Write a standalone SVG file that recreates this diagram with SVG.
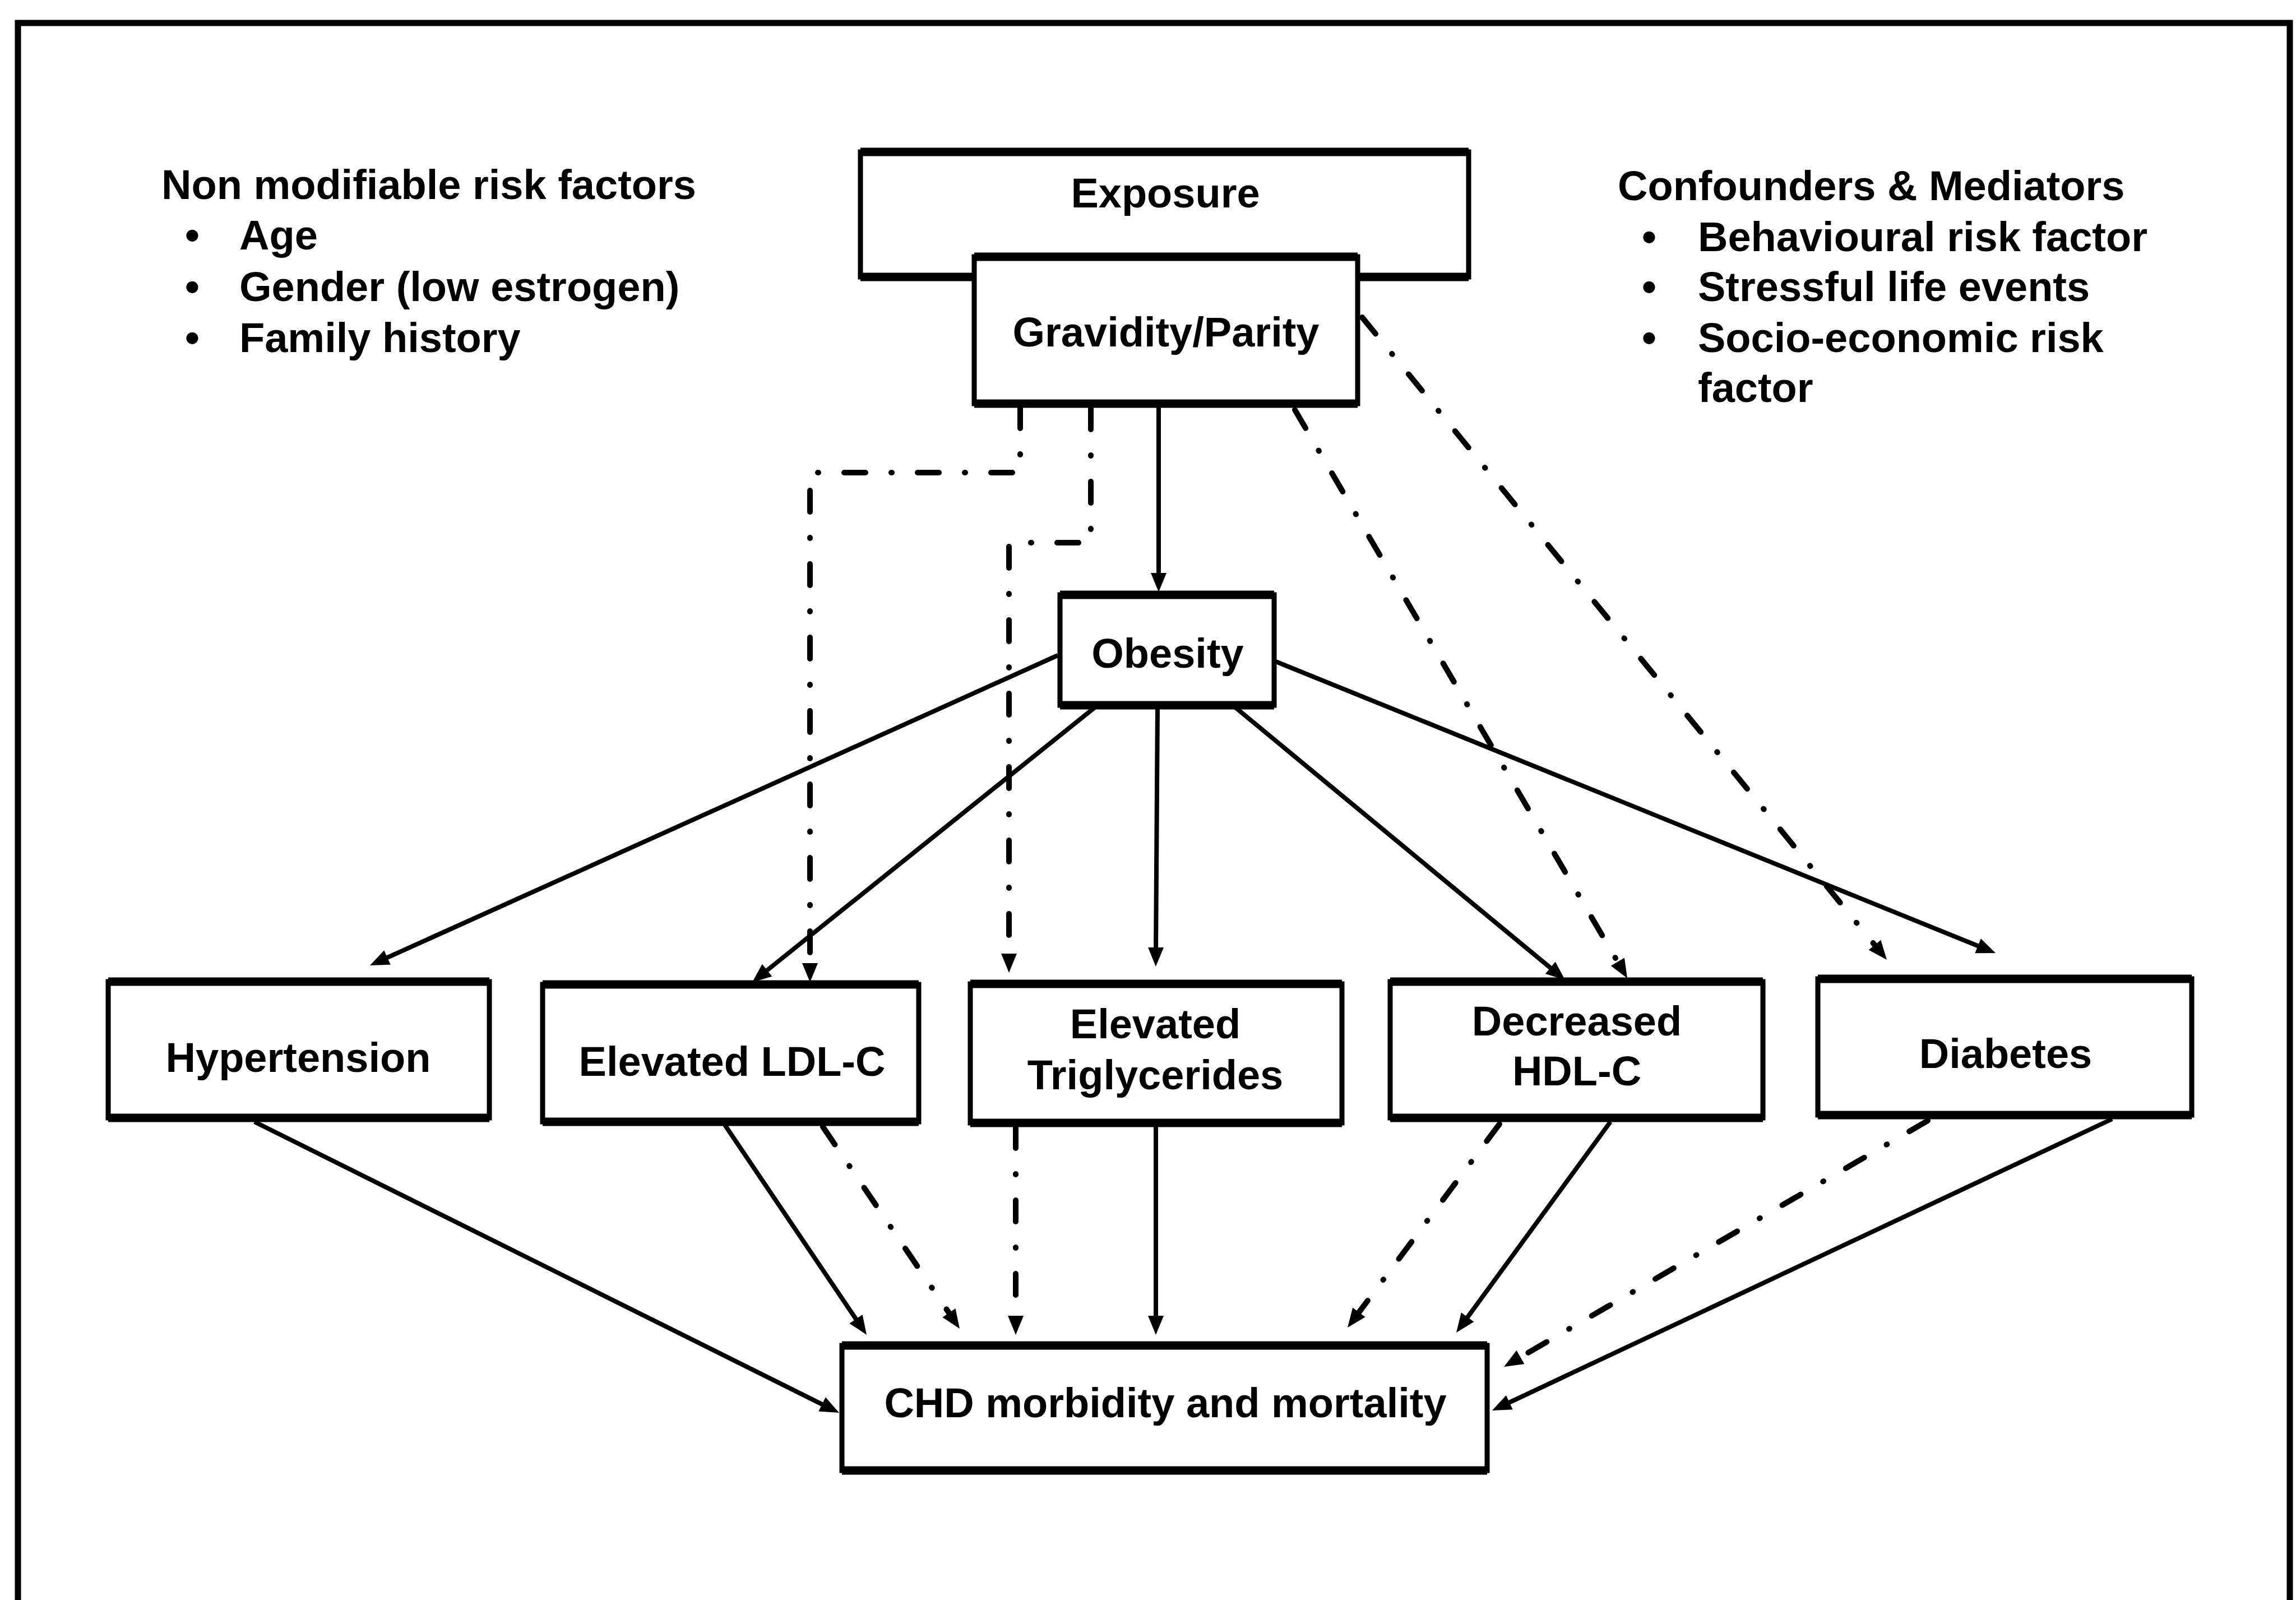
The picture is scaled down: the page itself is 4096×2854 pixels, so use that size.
<svg xmlns="http://www.w3.org/2000/svg" width="4096" height="2854" viewBox="0 0 4096 2854">
<defs>
<style>
.box{fill:#fff;stroke:#000;stroke-width:9}
.hb{fill:none;stroke:#000;stroke-width:15}
.t{font-family:"Liberation Sans",Arial,sans-serif;font-weight:bold;font-size:74px;fill:#000}
.c{text-anchor:middle}
.s{fill:none;stroke:#000;stroke-width:8}
.d{fill:none;stroke:#000;stroke-width:10;stroke-linecap:round;stroke-dasharray:38 46 1 46}
</style>
<marker id="ah" markerUnits="userSpaceOnUse" markerWidth="36" markerHeight="30" refX="10" refY="14" orient="auto" overflow="visible">
<path d="M0,0 L34,14 L0,28 z" fill="#000"/>
</marker>
</defs>
<rect width="4096" height="2854" fill="#fff"/>
<path d="M32,2854 V41 H4085 V2854" fill="none" stroke="#000" stroke-width="11"/>

<g id="left-notes">
<text class="t" x="288" y="355">Non modifiable risk factors</text>
<text class="t" x="330" y="445">•</text><text class="t" x="427" y="445">Age</text>
<text class="t" x="330" y="537">•</text><text class="t" x="427" y="537">Gender (low estrogen)</text>
<text class="t" x="330" y="628">•</text><text class="t" x="427" y="628">Family history</text>
</g>
<g id="right-notes">
<text class="t" x="2886" y="357">Confounders &amp; Mediators</text>
<text class="t" x="2929" y="448">•</text><text class="t" x="3029" y="448">Behavioural risk factor</text>
<text class="t" x="2929" y="537">•</text><text class="t" x="3029" y="537">Stressful life events</text>
<text class="t" x="2929" y="628">•</text><text class="t" x="3029" y="628">Socio-economic risk</text>
<text class="t" x="3029" y="717">factor</text>
</g>

<g id="connectors">
<path class="s" d="M2067,722 L2067,1032" marker-end="url(#ah)"/>
<path class="s" d="M1887,1169 L681.9,1712.1" marker-end="url(#ah)"/>
<path class="s" d="M1953,1262 L1360.7,1737" marker-end="url(#ah)"/>
<path class="s" d="M2065,1262 L2062,1700" marker-end="url(#ah)"/>
<path class="s" d="M2204,1262 L2773.5,1732.7" marker-end="url(#ah)"/>
<path class="s" d="M2271,1178 L3537.8,1691" marker-end="url(#ah)"/>
<path class="s" d="M454,2001 L1475.5,2509.3" marker-end="url(#ah)"/>
<path class="s" d="M1292,2005 L1532.6,2361.1" marker-end="url(#ah)"/>
<path class="s" d="M2062,2005 L2062,2357" marker-end="url(#ah)"/>
<path class="s" d="M2873,2001 L2612.2,2357.6" marker-end="url(#ah)"/>
<path class="s" d="M3768,1996 L2683.7,2505.8" marker-end="url(#ah)"/>
<path class="d" d="M1820,726 V843 H1445 V1728" marker-end="url(#ah)"/>
<path class="d" d="M1946,728 V968 H1800 V1711" marker-end="url(#ah)"/>
<path class="d" d="M2310,731 L2890.9,1724.3" marker-end="url(#ah)"/>
<path class="d" d="M2430,566 L3350.8,1693.4" marker-end="url(#ah)"/>
<path class="d" d="M1468,2010 L1698.5,2350.1" marker-end="url(#ah)"/>
<path class="d" d="M1812,2010 L1812,2357" marker-end="url(#ah)"/>
<path class="d" d="M2675,2005 L2418.4,2348.8" marker-end="url(#ah)"/>
<path class="d" d="M3439,1999 L2703.8,2425.9" marker-end="url(#ah)"/>
</g>

<g id="exposure">
<rect class="box" x="1535" y="271" width="1085" height="223"/>
<path class="hb" d="M1535,271 H2620 M1535,494 H2620"/>
<text class="t c" x="2079" y="370">Exposure</text>
</g>
<g id="gravidity">
<rect class="box" x="1738" y="458" width="684" height="262"/>
<path class="hb" d="M1738,458 H2422 M1738,720 H2422"/>
<text class="t c" x="2080" y="618">Gravidity/Parity</text>
</g>
<g id="obesity">
<rect class="box" x="1891" y="1061" width="382" height="197"/>
<path class="hb" d="M1891,1061 H2273 M1891,1258 H2273"/>
<text class="t c" x="2083" y="1191">Obesity</text>
</g>
<g id="hypertension">
<rect class="box" x="193" y="1751" width="680" height="243"/>
<path class="hb" d="M193,1751 H873 M193,1994 H873"/>
<text class="t c" x="532" y="1912">Hypertension</text>
</g>
<g id="ldl">
<rect class="box" x="968" y="1756" width="671" height="245"/>
<path class="hb" d="M968,1756 H1639 M968,2001 H1639"/>
<text class="t c" x="1306" y="1919">Elevated LDL-C</text>
</g>
<g id="triglycerides">
<rect class="box" x="1731" y="1755" width="663" height="248"/>
<path class="hb" d="M1731,1755 H2394 M1731,2003 H2394"/>
<text class="t c" x="2061" y="1852">Elevated</text>
<text class="t c" x="2061" y="1943">Triglycerides</text>
</g>
<g id="hdl">
<rect class="box" x="2480" y="1751" width="665" height="243"/>
<path class="hb" d="M2480,1751 H3145 M2480,1994 H3145"/>
<text class="t c" x="2813" y="1847">Decreased</text>
<text class="t c" x="2813" y="1936">HDL-C</text>
</g>
<g id="diabetes">
<rect class="box" x="3243" y="1746" width="667" height="243"/>
<path class="hb" d="M3243,1746 H3910 M3243,1989 H3910"/>
<text class="t c" x="3578" y="1905">Diabetes</text>
</g>
<g id="chd">
<rect class="box" x="1502" y="2400" width="1151" height="223"/>
<path class="hb" d="M1502,2400 H2653 M1502,2623 H2653"/>
<text class="t c" x="2079" y="2528">CHD morbidity and mortality</text>
</g>
</svg>
